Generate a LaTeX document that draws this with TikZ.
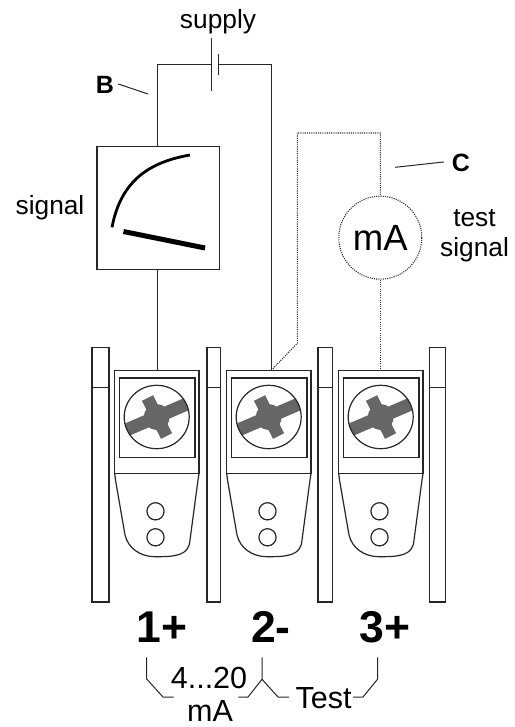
\documentclass[tikz,border=0pt]{standalone}
\usepackage{fontspec}
\setmainfont{Liberation Sans}
\begin{document}
\begin{tikzpicture}[x=1pt,y=-1pt,
  ln/.style={draw=black!85,line width=1.2pt},
  dot/.style={draw=black!80,line width=1.1pt,dash pattern=on 1.1pt off 1.1pt},
  txt/.style={inner sep=0pt,font=\fontsize{26.3}{30}\selectfont,align=center},
  big/.style={inner sep=0pt,font=\fontsize{44.5}{50}\selectfont\bfseries},
  lab/.style={inner sep=0pt,font=\fontsize{25}{29}\selectfont\bfseries},
  mid/.style={inner sep=0pt,font=\fontsize{30.5}{32}\selectfont},
  bar/.style={ln,line width=1.3pt}]
\useasboundingbox (0,0) rectangle (514,727);
% DIN-rail separators
\foreach \a/\b in {92/109,207/220.5,318/332.5,429.5/445.5}{
  \draw[bar] (\a,347.3) rectangle (\b,602);
  \draw[bar] (\a,387.7) -- (\b,387.7);
}
% terminals
\foreach \i/\dx in {1/0,2/112,3/224}{
  \begin{scope}[xshift=\dx pt]
    \coordinate (t\i) at (157.3,370.3);
    \draw[ln] (114.7,473.7) -- (114.7,370.3) -- (199,370.3) -- (199,473.7) -- cycle;
    \draw[ln] (119.7,378) rectangle (195,457.7);
    \begin{scope}
      \clip (156.7,417) ellipse [x radius=32.5,y radius=31.7];
      \draw[line width=13pt,draw=black!60] (125,430.5) -- (188,403.5);
      \draw[line width=12.5pt,draw=black!60] (147.5,398) -- (166.5,436);
      \fill[black!60] (156.7,417) circle (13);
    \end{scope}
    \draw[ln] (156.7,417) ellipse [x radius=32.5,y radius=31.7];
    \draw[ln] (114.7,473.7) -- (115.5,480) -- (125,535)
      .. controls (128,548) and (140,556.7) .. (155,556.7)
      .. controls (175,556.7) and (189,556) .. (190,540)
      -- (198,480) -- (199,473.7);
    \draw[ln] (155.5,511.3) circle (8.6);
    \draw[ln] (155.5,537.3) circle (8.6);
  \end{scope}
}
% signal box
\node[draw=black!85,line width=1.2pt,minimum width=122.3pt,minimum height=122.6pt,inner sep=0pt] (box) at (158.2,208) {};
\draw[line width=2.8pt] (112,227.3) .. controls (121,180) and (150,162) .. (190,155);
\draw[line width=5pt] (123.5,231.5) -- (205,248);
% supply
\coordinate (plusa) at (211.7,38);
\coordinate (plusb) at (211.7,91);
\coordinate (minusa) at (218.7,54);
\coordinate (minusb) at (218.7,75);
\draw[ln] (plusa) -- (plusb);
\draw[ln] (minusa) -- (minusb);
\coordinate (wl) at (211.7,64.4);
\coordinate (wr) at (218.7,64.4);
\draw[ln] (box.north -| 157.3,0) -- (157.3,64.4) -- (wl);
\draw[ln] (wr) -- (271.3,64.4) -- (t2 -| 271.3,0);
\draw[ln] (box.south -| 157.3,0) -- (t1);
% meter
\node[circle,dot,minimum size=83pt,inner sep=0pt,font=\fontsize{36.5}{40}\selectfont] (ma) at (380.3,237.7) {mA};
\draw[dot] (t2 -| 271.3,0) -- (297.3,343.3) -- (297.3,133) -- (380.3,133) -- (ma.north);
\draw[dot] (ma.south) -- (ma.south |- t3);
% labels
\node[txt] (supply) at (218,21.5) {supply};
\node[txt] (signal) at (50,208) {signal};
\node[txt] (test) at (474.5,236) {test\\signal};
\node[lab] (B) at (105,85) {B};
\node[lab] (C) at (461,163) {C};
\coordinate (Bend) at (148,94);
\coordinate (Cend) at (395,167.3);
\draw[ln,line width=1pt] (B.east)++(4,-1) -- (Bend);
\draw[ln,line width=1pt] (C.west)++(-8,-1) -- (Cend);
\node[big] (n1) at (162,627) {1+};
\node[big] (n2) at (271,627) {2-};
\node[big] (n3) at (385,627) {3+};
\node[mid] (r) at (209,677.5) {4...20};
\node[mid] (m) at (210,711) {mA};
\node[mid] (T) at (323.5,698.5) {Test};
\draw[ln,line width=1pt] (146.7,657.3) -- (146.7,679) -- (163,697) -- (173.7,697);
\draw[ln,line width=1pt] (238.3,697) -- (248,697) -- (262,679.3) -- (262,657.3);
\draw[ln,line width=1pt] (262,679.3) -- (278,697) -- (289,697);
\draw[ln,line width=1pt] (353,697) -- (363,697) -- (377.7,679) -- (377.7,657.3);
\end{tikzpicture}
\end{document}
